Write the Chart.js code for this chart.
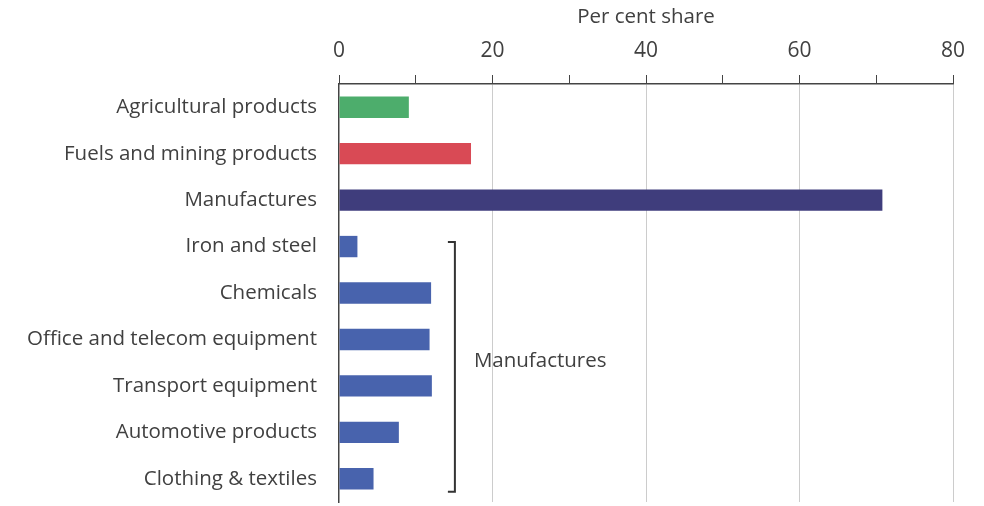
<!DOCTYPE html>
<html lang="en">
<head>
    <meta charset="UTF-8">
    <title>Per cent share</title>
    <script src="https://cdn.jsdelivr.net/npm/chart.js"></script>
    <style>
        body {
            margin: 0;
            padding: 0;
            background-color: #fff;
        }
        .chart-container {
            width: 984px;
            height: 506px;
            position: relative;
        }
    </style>
</head>
<body>
    <div class="chart-container">
        <canvas id="shareChart"></canvas>
    </div>
    <script>
        const categories = ['Agricultural products', 'Fuels and mining products', 'Manufactures',
            'Iron and steel', 'Chemicals', 'Office and telecom equipment', 'Transport equipment',
            'Automotive products', 'Clothing & textiles'];
        const shares = [9.1, 17.2, 70.8, 2.4, 12.0, 11.8, 12.1, 7.8, 4.5];
        const barColors = ['#4dad6c', '#d94a55', '#3f3d7c', '#4863ad', '#4863ad', '#4863ad', '#4863ad', '#4863ad', '#4863ad'];
        const axisTicks = [0, 20, 40, 60, 80];
        const bracketLabel = 'Manufactures';
        const bracketFrom = 3, bracketTo = 8;

        const fontFamily = '"Open Sans", sans-serif';
        const textColor = '#404040';

        // bracket round the manufactures sub-groups
        const bracketPlugin = {
            id: 'bracket',
            afterDraw(chart) {
                const x = chart.scales.x, y = chart.scales.y;
                const band = y.getPixelForValue(1) - y.getPixelForValue(0);
                const bx = x.getPixelForValue(15.1);
                const top = y.getPixelForValue(bracketFrom) - band * 0.1;
                const bottom = y.getPixelForValue(bracketTo) + band * 0.28;
                const c = chart.ctx;
                c.save();
                c.strokeStyle = '#333';
                c.lineWidth = 2;
                c.beginPath();
                c.moveTo(bx - 7, top);
                c.lineTo(bx, top);
                c.lineTo(bx, bottom);
                c.lineTo(bx - 7, bottom);
                c.stroke();
                c.fillStyle = textColor;
                c.font = '20.5px ' + fontFamily;
                c.textAlign = 'left';
                c.textBaseline = 'middle';
                c.fillText(bracketLabel, bx + 19, (top + bottom) / 2 - 6);
                c.restore();
            }
        };

        new Chart(document.getElementById('shareChart'), {
            type: 'bar',
            data: {
                labels: categories,
                datasets: [{
                    data: shares,
                    backgroundColor: barColors,
                    barPercentage: 0.46,
                    categoryPercentage: 1
                }]
            },
            options: {
                indexAxis: 'y',
                responsive: true,
                maintainAspectRatio: false,
                animation: false,
                layout: { padding: { right: 31, bottom: 4 } },
                plugins: {
                    legend: { display: false },
                    tooltip: { enabled: false }
                },
                scales: {
                    x: {
                        position: 'top',
                        min: 0,
                        max: 80,
                        afterBuildTicks: s => {
                            s.ticks = [];
                            for (let v = 0; v <= 80; v += 10) s.ticks.push({ value: v });
                        },
                        afterFit: s => { s.height = 84; },
                        title: {
                            display: true,
                            text: 'Per cent share',
                            color: textColor,
                            font: { family: fontFamily, size: 20.5 },
                            padding: { top: 5, bottom: 0 }
                        },
                        ticks: {
                            color: textColor,
                            font: { family: fontFamily, size: 21 },
                            padding: 11,
                            maxRotation: 0,
                            callback: v => axisTicks.includes(v) ? v : ''
                        },
                        grid: {
                            color: c => (c.tick && c.tick.value % 20 === 0 && c.tick.value !== 0) ? '#cccccc' : 'rgba(0,0,0,0)',
                            tickColor: '#444',
                            tickLength: 9,
                            lineWidth: 1
                        },
                        border: { color: '#444', width: 1.5 }
                    },
                    y: {
                        afterFit: s => {
                            s.width = 339;
                            s.paddingTop = 0;
                            s.paddingBottom = 0;
                        },
                        ticks: {
                            color: textColor,
                            font: { family: fontFamily, size: 20.5 },
                            padding: 22
                        },
                        grid: { display: false, drawTicks: false },
                        border: { color: '#444', width: 1.5 }
                    }
                }
            },
            plugins: [bracketPlugin]
        });
    </script>
</body>
</html>
